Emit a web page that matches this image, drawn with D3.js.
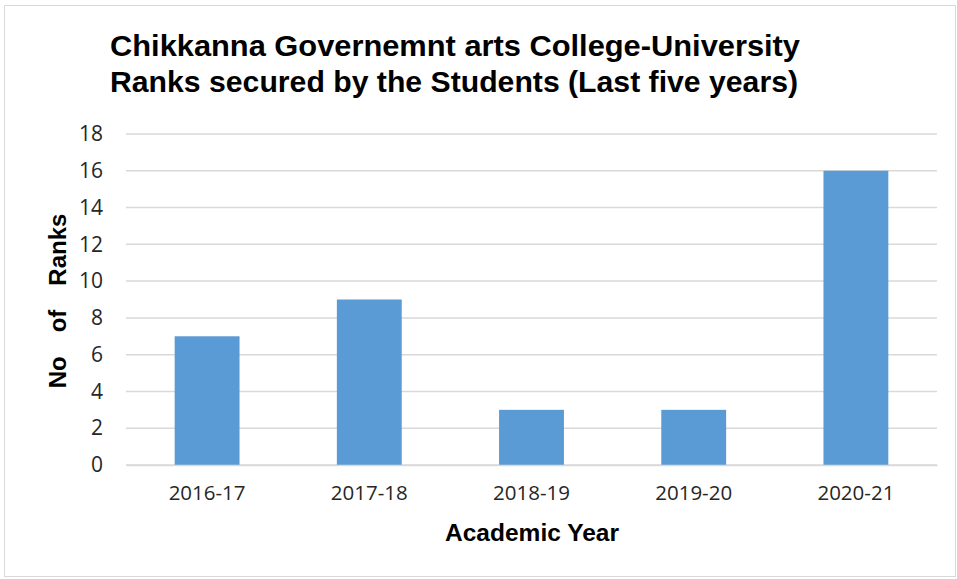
<!DOCTYPE html>
<html><head><meta charset="utf-8">
<script src="https://cdn.jsdelivr.net/npm/d3@7"></script>
<style>body{margin:0;background:#fff}svg{display:block}</style>
</head><body>
<script>
const categories = ["2016-17","2017-18","2018-19","2019-20","2020-21"];
const values = [7, 9, 3, 3, 16];
const yTicks = [0,2,4,6,8,10,12,14,16,18];
const titleLines = ["Chikkanna Governemnt arts College-University","Ranks secured by the Students (Last five years)"];
const yTitleWords = ["No","of","Ranks"];

const W=957,H=579;
const svg=d3.select("body").append("svg").attr("width",W).attr("height",H);
svg.append("rect").attr("x",4.5).attr("y",5.5).attr("width",W-6).attr("height",H-8)
  .attr("fill","#fff").attr("stroke","#d9d9d9").attr("stroke-width",1);

const L=126,R=937,T=134,B=465;
const x=d3.scaleBand().domain(categories).range([L,R]).paddingInner(0.6).paddingOuter(0.3);
const y=d3.scaleLinear().domain([0,18]).range([B,T]);

// gridlines
svg.append("g").selectAll("line").data(yTicks).join("line")
  .attr("x1",L).attr("x2",R).attr("y1",d=>y(d)).attr("y2",d=>y(d))
  .attr("stroke","#d9d9d9").attr("stroke-width",1.5);

// bars
svg.append("g").selectAll("rect").data(values).join("rect")
  .attr("x",(d,i)=>x(categories[i])).attr("width",x.bandwidth())
  .attr("y",d=>y(d)).attr("height",d=>B-y(d)).attr("fill","#5b9bd5");

const tickFont="'Open Sans','Liberation Sans',Arial,sans-serif";
// y axis
const ya=svg.append("g").attr("transform",`translate(${L},0)`)
  .call(d3.axisLeft(y).tickValues(yTicks).tickSize(0).tickPadding(23));
ya.select(".domain").remove();
ya.selectAll("text").attr("font-family",tickFont).attr("font-size",21).attr("fill","#262626");

// x axis
const xa=svg.append("g").attr("transform",`translate(0,${B})`)
  .call(d3.axisBottom(x).tickSize(0).tickPadding(20));
xa.select(".domain").attr("stroke","#d9d9d9").attr("stroke-width",1.5);
xa.selectAll("text").attr("font-family",tickFont).attr("font-size",20.5).attr("fill","#262626");

// axis titles
const titleFont="'Liberation Sans',Arial,sans-serif";
svg.append("text").attr("x",532).attr("y",541).attr("text-anchor","middle")
  .attr("font-family",titleFont).attr("font-weight","bold").attr("font-size",23).attr("fill","#000")
  .attr("textLength",174).attr("lengthAdjust","spacingAndGlyphs")
  .text("Academic Year");
const yt=svg.append("text").attr("transform","translate(66,301) rotate(-90)").attr("text-anchor","middle")
  .attr("font-family",titleFont).attr("font-weight","bold").attr("font-size",24).attr("fill","#000");
yt.selectAll("tspan").data(yTitleWords).join("tspan")
  .attr("dx",(d,i)=>i===0?0:24).text(d=>d);

// title
svg.append("g").selectAll("text").data(titleLines).join("text")
  .attr("x",110).attr("y",(d,i)=>56+i*36)
  .attr("font-family",titleFont)
  .attr("font-weight","bold").attr("font-size",29).attr("fill","#000")
  .attr("textLength",(d,i)=>i===0?690:688).attr("lengthAdjust","spacingAndGlyphs")
  .text(d=>d);
</script>
</body></html>
